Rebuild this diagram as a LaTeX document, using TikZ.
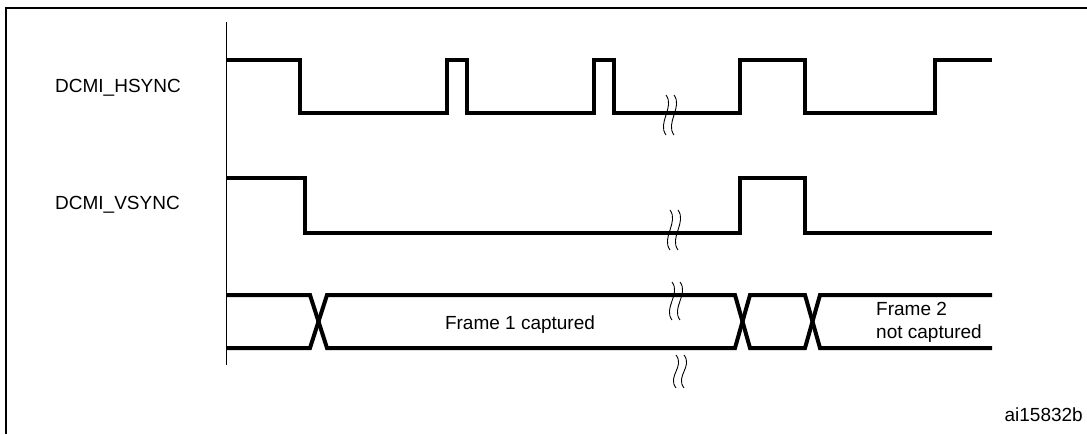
\documentclass[tikz,border=0pt]{standalone}
\usepackage{fontspec}
\setmainfont{Liberation Sans}
\begin{document}
\begin{tikzpicture}[x=1pt,y=-1pt,
  sig/.style={line width=4pt,line join=miter},
  brk/.style={line width=0.9pt},
  lbl/.style={font=\fontsize{19}{23}\selectfont,inner sep=0pt}]
\useasboundingbox (0,0) rectangle (1087,434);
\draw[line width=1.5pt] (6,434) -- (6,8) -- (1087,8);
\draw[line width=1pt] (226,22) -- (226,365);
% HSYNC
\coordinate (h0) at (226,60);
\draw[sig] (h0) -- (300,60) -- (300,113) -- (447,113) -- (447,60) -- (467,60) -- (467,113) -- (594,113) -- (594,60) -- (614,60) -- (614,113) -- (740,113) -- (740,60) -- (805,60) -- (805,113) -- (935,113) -- (935,60) -- (992,60);
% VSYNC
\draw[sig] (226,178) -- (305,178) -- (305,233) -- (740,233) -- (740,178) -- (805,178) -- (805,233) -- (992,233);
% bus
\draw[sig] (226,295) -- (310,295) -- (327,348) -- (735,348) -- (750,295) -- (805,295) -- (820,348) -- (992,348);
\draw[sig] (226,348) -- (310,348) -- (327,295) -- (735,295) -- (750,348) -- (805,348) -- (820,295) -- (992,295);
% breaks
\foreach \x/\a/\b in {666/95/135, 670/210/250, 672/282/320, 676/355/388}{
  \draw[brk] (\x,\a) .. controls (\x+9,\a+12) and (\x-9,\b-12) .. (\x,\b);
  \draw[brk] (\x+8,\a) .. controls (\x+17,\a+12) and (\x-1,\b-12) .. (\x+8,\b);
}
\node[lbl,anchor=west] (hs) at (55,88) {DCMI\_HSYNC};
\node[lbl,anchor=west] (vs) at (55,205) {DCMI\_VSYNC};
\node[lbl] (f1) at (520,325) {Frame 1 captured};
\node[lbl,anchor=west,align=left] (f2) at (876,322) {Frame 2\\not captured};
\node[lbl,anchor=east] (id) at (1083,415) {ai15832b};
\end{tikzpicture}
\end{document}
